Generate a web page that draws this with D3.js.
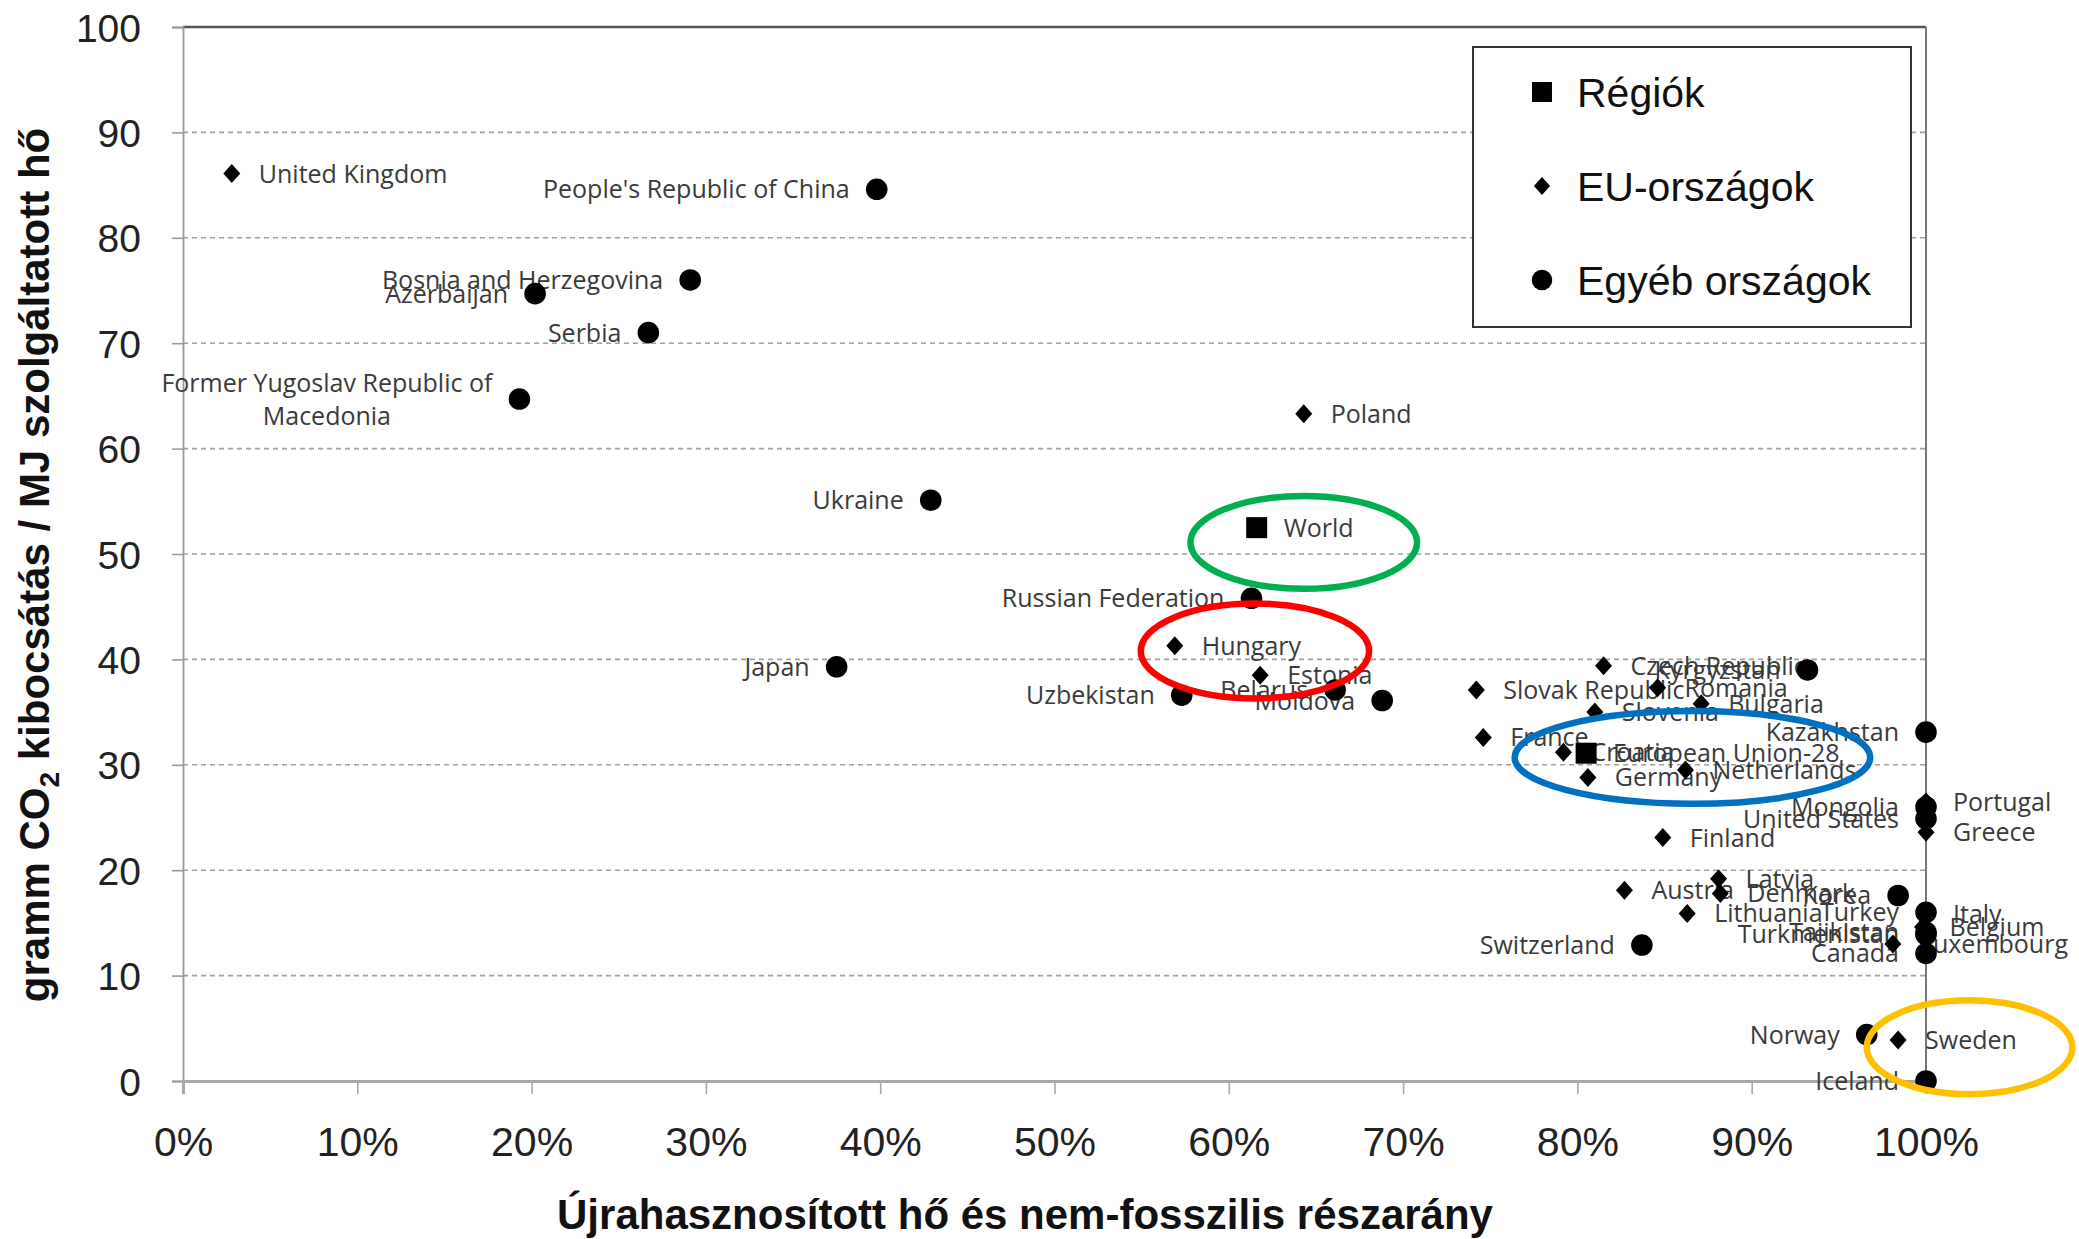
<!DOCTYPE html>
<html lang="hu">
  <head>
    <meta charset="UTF-8" />
    <title>CO2 kibocsátás</title>
    <script src="https://d3js.org/d3.v7.min.js"></script>
    <style>
      body { margin: 0; background: #fff; }
      .tick text { font-family: "Liberation Sans", Arial, sans-serif; fill: #222; }
      .pontcimke { font-family: "Open Sans", sans-serif; font-size: 25px; fill: #3a3a3a; }
    </style>
  </head>
  <body>
    <script>
      // adatok: ország, csoport, részarány (%), gramm CO2 / MJ
      var orszagok = [
        "United Kingdom", "People's Republic of China", "Bosnia and Herzegovina", "Azerbaijan",
        "Serbia", "Former Yugoslav Republic of\nMacedonia", "Poland", "Ukraine", "World",
        "Russian Federation", "Hungary", "Japan", "Estonia", "Uzbekistan", "Belarus", "Moldova",
        "Czech Republic", "Kyrgyzstan", "Slovak Republic", "Romania", "Bulgaria", "Slovenia",
        "Kazakhstan", "France", "Croatia", "European Union-28", "Germany", "Netherlands",
        "Portugal", "Mongolia", "United States", "Greece", "Finland", "Latvia", "Austria",
        "Denmark", "Korea", "Lithuania", "Turkey", "Italy", "Belgium", "Tajikistan",
        "Turkmenistan", "Luxembourg", "Canada", "Switzerland", "Norway", "Sweden", "Iceland"
      ];
      var csoport = [
        "eu", "egyeb", "egyeb", "egyeb",
        "egyeb", "egyeb", "eu", "egyeb", "regio",
        "egyeb", "eu", "egyeb", "eu", "egyeb", "egyeb", "egyeb",
        "eu", "egyeb", "eu", "eu", "eu", "eu",
        "egyeb", "eu", "eu", "regio", "eu", "eu",
        "eu", "egyeb", "egyeb", "eu", "eu", "eu", "eu",
        "eu", "egyeb", "eu", "egyeb", "eu", "eu", "egyeb",
        "egyeb", "eu", "egyeb", "egyeb", "egyeb", "eu", "egyeb"
      ];
      var reszarany = [
        2.8, 39.8, 29.1, 20.2,
        26.7, 19.3, 64.3, 42.9, 61.6,
        61.3, 56.9, 37.5, 61.8, 57.3, 66.1, 68.8,
        81.5, 93.2, 74.2, 84.6, 87.1, 81.0,
        100, 74.6, 79.2, 80.5, 80.6, 86.2,
        100, 100, 100, 100, 84.9, 88.1, 82.7,
        88.2, 98.4, 86.3, 100, 100, 99.8, 100,
        100, 98.1, 100, 83.7, 96.6, 98.4, 100
      ];
      var kibocsatas = [
        86.1, 84.6, 76.0, 74.7,
        71.0, 64.7, 63.3, 55.1, 52.5,
        45.8, 41.3, 39.3, 38.5, 36.6, 37.1, 36.1,
        39.4, 39.0, 37.1, 37.3, 35.8, 35.0,
        33.1, 32.6, 31.2, 31.1, 28.8, 29.5,
        26.5, 26.0, 24.9, 23.6, 23.1, 19.2, 18.1,
        17.8, 17.6, 15.9, 16.0, 15.8, 14.6, 14.1,
        13.9, 13.0, 12.1, 12.9, 4.4, 3.9, 0
      ];

      var csoportok = ["regio", "eu", "egyeb"];
      var jelmagyarazat = ["Régiók", "EU-országok", "Egyéb országok"];

      var yTicks = [0, 10, 20, 30, 40, 50, 60, 70, 80, 90, 100];
      var xTicks = [0, 10, 20, 30, 40, 50, 60, 70, 80, 90, 100];

      // kiemelő ellipszisek (középpont és sugár adategységben)
      var kiemelesSzin = ["#00b050", "#ff0000", "#0070c0", "#ffc000"];
      var kiemelesX = [64.3, 61.5, 86.6, 102.5];
      var kiemelesY = [51.1, 40.8, 30.7, 3.2];
      var kiemelesRx = [6.5, 6.55, 10.2, 5.9];
      var kiemelesRy = [4.4, 4.5, 4.4, 4.45];

      var W = 2079, H = 1239;
      var bal = 183, jobb = 1926, fent = 27, lent = 1081;

      var svg = d3.select("body").append("svg").attr("width", W).attr("height", H);

      var x = d3.scaleLinear().domain([0, 100]).range([bal, jobb]);
      var y = d3.scaleLinear().domain([0, 100]).range([lent, fent]);

      // rácsvonalak
      svg.append("g")
        .selectAll("line")
        .data(yTicks.filter((d) => d > 0 && d < 100))
        .enter()
        .append("line")
        .attr("x1", bal).attr("x2", jobb)
        .attr("y1", (d) => y(d)).attr("y2", (d) => y(d))
        .attr("stroke", "#a0a0a0")
        .attr("stroke-width", 1.6)
        .attr("stroke-dasharray", "5,4");

      // keret fent és jobbra
      svg.append("line").attr("x1", bal).attr("x2", jobb).attr("y1", fent).attr("y2", fent)
        .attr("stroke", "#555").attr("stroke-width", 2.5);
      svg.append("line").attr("x1", jobb).attr("x2", jobb).attr("y1", fent).attr("y2", lent)
        .attr("stroke", "#777").attr("stroke-width", 2);

      // tengelyek
      var yAxis = svg.append("g")
        .attr("transform", "translate(" + bal + ",0)")
        .call(d3.axisLeft(y).tickValues(yTicks).tickSize(11).tickPadding(0));
      yAxis.select(".domain").attr("stroke", "#999").attr("stroke-width", 1.8);
      yAxis.selectAll(".tick line").attr("stroke", "#999").attr("stroke-width", 1.6);
      yAxis.selectAll(".tick text")
        .attr("x", -42).attr("dy", "0.36em")
        .style("font-size", "39px");

      var xAxis = svg.append("g")
        .attr("transform", "translate(0," + lent + ")")
        .call(d3.axisBottom(x).tickValues(xTicks).tickSize(13).tickFormat((d) => d + "%"));
      xAxis.select(".domain").attr("stroke", "#a8a8a8").attr("stroke-width", 3);
      xAxis.selectAll(".tick line").attr("stroke", "#a8a8a8").attr("stroke-width", 1.6);
      xAxis.selectAll(".tick text")
        .attr("y", 75).attr("dy", 0)
        .style("font-size", "41px");

      // tengelycímek
      svg.append("text")
        .attr("x", 1025).attr("y", 1229)
        .attr("text-anchor", "middle")
        .style("font-family", "'Liberation Sans', Arial, sans-serif")
        .style("font-weight", "bold").style("font-size", "42px").style("fill", "#111")
        .text("Újrahasznosított hő és nem-fosszilis részarány");

      var yCim = svg.append("text")
        .attr("transform", "translate(49,565) rotate(-90)")
        .attr("text-anchor", "middle")
        .style("font-family", "'Liberation Sans', Arial, sans-serif")
        .style("font-weight", "bold").style("font-size", "42px").style("fill", "#111");
      yCim.append("tspan").text("gramm CO");
      yCim.append("tspan").attr("dy", 10).style("font-size", "28px").text("2");
      yCim.append("tspan").attr("dy", -10).text(" kibocsátás / MJ szolgáltatott hő");

      // jelölők
      function jelolo(sel, cs, s) {
        if (cs === "regio") {
          sel.append("rect").attr("x", -10.5 * s).attr("y", -10.5 * s)
            .attr("width", 21 * s).attr("height", 21 * s).attr("fill", "#000");
        } else if (cs === "eu") {
          sel.append("path")
            .attr("d", "M0," + (-9.5 * s) + "L" + (8.5 * s) + ",0L0," + (9.5 * s) + "L" + (-8.5 * s) + ",0Z")
            .attr("fill", "#000");
        } else {
          sel.append("circle").attr("r", 10.8 * s).attr("fill", "#000");
        }
      }

      var idx = d3.range(orszagok.length);

      // címkék (a jelölők alatt)
      var cimkek = svg.append("g");
      idx.forEach(function (i) {
        var balra = csoport[i] === "egyeb";
        var px = x(reszarany[i]), py = y(kibocsatas[i]);
        var sorok = orszagok[i].split("\n");
        var t = cimkek.append("text").attr("class", "pontcimke");
        if (sorok.length === 1) {
          t.attr("x", balra ? px - 27 : px + 27).attr("y", py).attr("dy", "0.36em")
            .attr("text-anchor", balra ? "end" : "start")
            .text(sorok[0]);
        } else {
          sorok.forEach(function (s, k) {
            t.append("tspan").attr("y", py + (k - (sorok.length - 1) / 2) * 33).attr("dy", "0.36em").text(s);
          });
          var max = d3.max(t.selectAll("tspan").nodes(), (n) => n.getComputedTextLength());
          var cx = balra ? px - 27 - max / 2 : px + 27 + max / 2;
          t.attr("text-anchor", "middle").selectAll("tspan").attr("x", cx);
        }
      });

      var pontok = svg.append("g");
      idx.forEach(function (i) {
        var g = pontok.append("g")
          .attr("transform", "translate(" + x(reszarany[i]) + "," + y(kibocsatas[i]) + ")");
        jelolo(g, csoport[i], 1);
      });

      // jelmagyarázat
      var lg = svg.append("g");
      lg.append("rect").attr("x", 1473).attr("y", 47).attr("width", 438).attr("height", 280)
        .attr("fill", "#fff").attr("stroke", "#333").attr("stroke-width", 2);
      csoportok.forEach(function (cs, k) {
        var ly = 92 + k * 94;
        var g = lg.append("g").attr("transform", "translate(1542," + ly + ")");
        jelolo(g, cs, 0.95);
        lg.append("text").attr("x", 1577).attr("y", ly).attr("dy", "0.36em")
          .style("font-family", "'Liberation Sans', Arial, sans-serif")
          .style("font-size", "41px").style("fill", "#111")
          .text(jelmagyarazat[k]);
      });

      // kiemelések
      svg.append("g")
        .selectAll("ellipse")
        .data(kiemelesSzin)
        .enter()
        .append("ellipse")
        .attr("cx", (d, i) => x(kiemelesX[i]))
        .attr("cy", (d, i) => y(kiemelesY[i]))
        .attr("rx", (d, i) => x(kiemelesRx[i]) - x(0))
        .attr("ry", (d, i) => y(0) - y(kiemelesRy[i]))
        .attr("fill", "none")
        .attr("stroke", (d) => d)
        .attr("stroke-width", 6.5);
    </script>
  </body>
</html>
